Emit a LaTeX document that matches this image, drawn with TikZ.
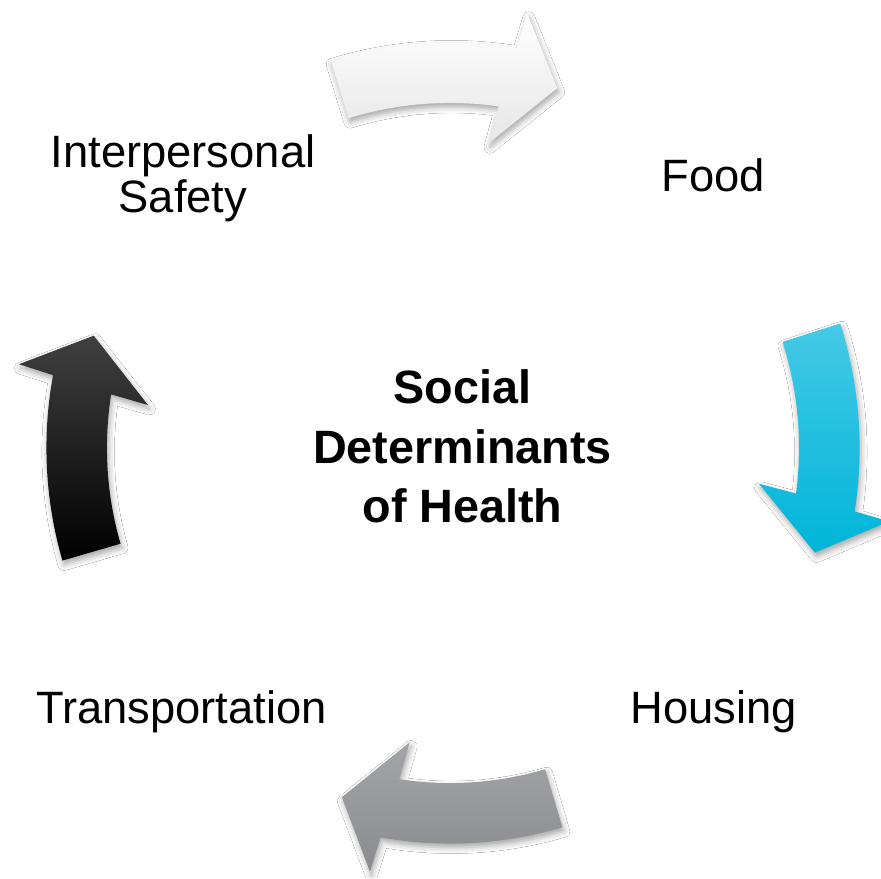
\documentclass[tikz,border=0pt]{standalone}
\usepackage{fontspec}
\setmainfont{Liberation Sans}
\usetikzlibrary{shadows.blur}

\definecolor{cyanTop}{HTML}{45C9E6}
\definecolor{cyanBot}{HTML}{00B5D9}
\definecolor{grayTop}{HTML}{A3A5A8}
\definecolor{grayBot}{HTML}{898B8E}
\definecolor{blackTop}{HTML}{404040}
\definecolor{whiteBot}{HTML}{E6E6E6}

% Curved block arrow on a circle around the origin.
% #1 = middle angle, #2 = radial offset (px), #3 = style
\newcommand\sdharrow[3]{%
  \pgfmathsetmacro\sdRo{(403.5+#2)*0.02}%
  \pgfmathsetmacro\sdRi{(343+#2)*0.02}%
  \pgfmathsetmacro\sdRb{(439+#2)*0.02}%
  \pgfmathsetmacro\sdRc{(305+#2)*0.02}%
  \pgfmathsetmacro\sdRt{(373.5+#2)*0.02}%
  \path[#3] ({#1+16.9}:\sdRo)
    arc[start angle={#1+16.9}, end angle={#1-9.7}, radius=\sdRo]
    -- ({#1-10.3}:\sdRb) -- ({#1-16.8}:\sdRt) -- ({#1-7.4}:\sdRc)
    -- ({#1-8.3}:\sdRi)
    arc[start angle={#1-8.3}, end angle={#1+16.9}, radius=\sdRi]
    -- cycle;%
}

\tikzset{
  cyclearrow/.style={blur shadow={shadow xshift=0.03cm, shadow yshift=-0.08cm,
      shadow blur radius=0.12cm, shadow opacity=35}},
  labeltext/.style={font=\fontsize{25.8pt}{26.1pt}\selectfont, inner sep=0pt, align=center},
  centertext/.style={font=\fontsize{26.6pt}{34pt}\selectfont\bfseries, inner sep=0pt, align=center},
}

\begin{document}
\begin{tikzpicture}
  \useasboundingbox[fill=white] (-9.0,-8.6) rectangle (8.62,8.96);

  % the four arrows, running clockwise
  \sdharrow{90.2}{2}{cyclearrow, top color=white, bottom color=whiteBot}
  \sdharrow{0.8}{6}{cyclearrow, top color=cyanTop, bottom color=cyanBot}
  \sdharrow{-90.4}{-8}{cyclearrow, top color=grayTop, bottom color=grayBot}
  \sdharrow{179.3}{0}{cyclearrow, top color=blackTop, middle color=black, bottom color=black}

  % labels (base = baseline of the last line)
  \node[labeltext, anchor=base] (safety) at (-5.34,4.7) {Interpersonal\\Safety};
  \node[labeltext, anchor=base] (food) at (5.27,5.12) {Food};
  \node[labeltext, anchor=base] (housing) at (5.28,-5.5) {Housing};
  \node[labeltext, anchor=base] (transport) at (-5.37,-5.5) {Transportation};
  \node[centertext, anchor=base] (sdoh) at (0.25,-1.5) {Social\\Determinants\\of Health};
\end{tikzpicture}
\end{document}
